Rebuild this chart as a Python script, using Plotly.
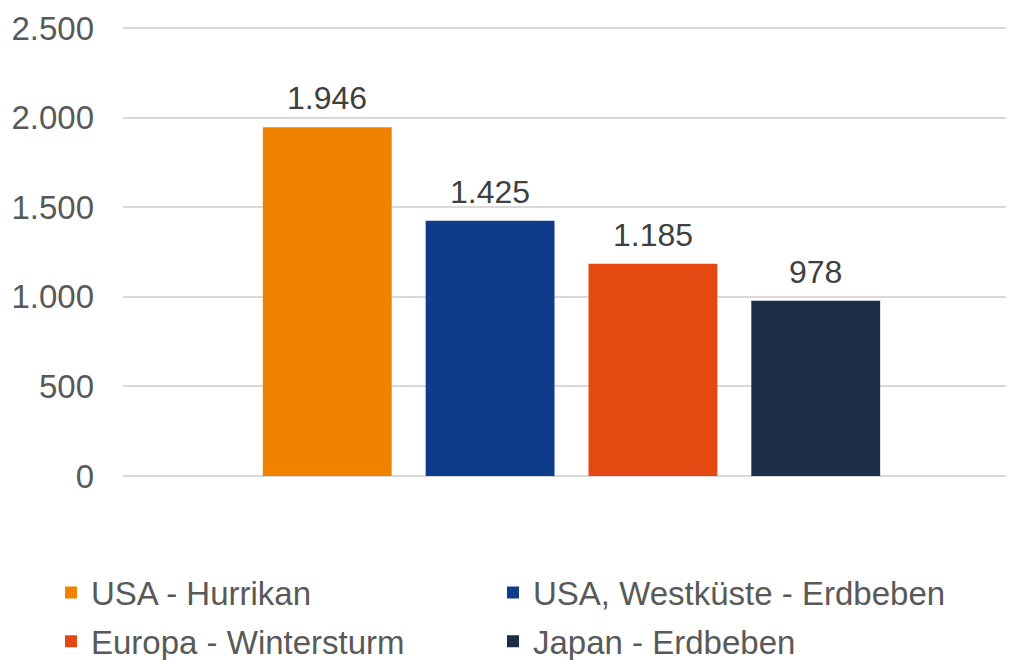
import plotly.graph_objects as go

series = ["USA - Hurrikan", "USA, Westküste - Erdbeben", "Europa - Wintersturm", "Japan - Erdbeben"]
values = [1946, 1425, 1185, 978]
colors = ["#F08200", "#0E3C8A", "#E54912", "#1B2D47"]
legend_col = ["legend", "legend2", "legend", "legend2"]
y_ticks = [0, 500, 1000, 1500, 2000, 2500]

FONT = "Liberation Sans, Arial, sans-serif"

fig = go.Figure()
for i, (name, val, col) in enumerate(zip(series, values, colors)):
    fig.add_trace(go.Bar(x=[name], y=[val], name=name, marker=dict(color=col, line=dict(width=0)),
                         showlegend=True, legend=legend_col[i], legendgroup=f"g{i}"))
    fig.add_annotation(x=name, y=val, text=f"{val:,}".replace(",", "."), showarrow=False,
                       yanchor="bottom", yshift=9, font=dict(family=FONT, size=32, color="#404040"))

legend_style = dict(orientation="v", yanchor="top", xanchor="left", tracegroupgap=3,
                    font=dict(family=FONT, size=33, color="#595959"),
                    bgcolor="rgba(0,0,0,0)", itemclick=False, itemdoubleclick=False)

# the page body adds an 8px offset, so the figure is 8px smaller on each side
fig.update_layout(
    width=1006, height=652,
    margin=dict(l=115, r=2, t=18, b=184, autoexpand=False),
    paper_bgcolor="white", plot_bgcolor="white",
    barmode="overlay", bargap=0.2086,
    separators=",.",
    font=dict(family=FONT, size=33, color="#595959"),
    xaxis=dict(range=[-1.2546, 4.2055], showticklabels=False, showgrid=False, zeroline=False,
               showline=False, type="category"),
    yaxis=dict(range=[0, 2511.2], tickvals=y_ticks, tickformat=",.0f", showgrid=True,
               gridcolor="#D9D9D9", gridwidth=1.7, zeroline=True, zerolinecolor="#D9D9D9",
               zerolinewidth=1.7, showline=False, ticks="", ticklabelstandoff=28,
               tickfont=dict(family=FONT, size=33, color="#595959")),
    legend=dict(x=-0.081, y=-0.1967, **legend_style),
    legend2=dict(x=0.4162, y=-0.1967, **legend_style),
)

fig.write_html("out.html")
